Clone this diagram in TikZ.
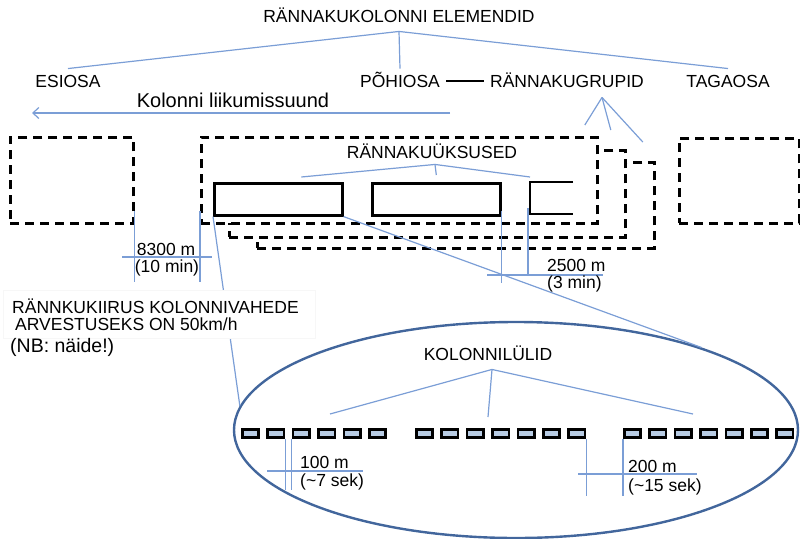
\documentclass[tikz,border=0pt]{standalone}
\usepackage{fontspec}
\setmainfont{Liberation Sans}
\usepackage{tikz}
\usetikzlibrary{shapes.geometric,arrows.meta,positioning}

\definecolor{connblue}{RGB}{123,158,214}
\definecolor{ellblue}{RGB}{66,102,156}
\definecolor{vehfill}{RGB}{184,204,228}

\newcommand{\lblfont}{\fontsize{17.5}{20}\selectfont}

\tikzset{
  lbl/.style={font=\lblfont, text height=12.5pt, text depth=0pt, inner sep=6pt},
  conn/.style={draw=connblue, line width=1.2pt},
  grpbox/.style={draw, fill=white, dashed, dash pattern=on 9pt off 6pt, line width=2.8pt, anchor=north west, inner sep=0pt},
  unitbox/.style={draw, line width=2.6pt, anchor=north west, inner sep=0pt},
  veh/.style={draw, fill=vehfill, line width=2.6pt, minimum width=16.5pt, minimum height=8.5pt, inner sep=0pt},
  dimtxt/.style={font=\lblfont, inner sep=0pt, anchor=west}
}

\begin{document}
\begin{tikzpicture}[x=1pt,y=-1pt]
  \useasboundingbox (0,0) rectangle (800,538);

  % top level
  \node[lbl] (title) at (399,16) {RÄNNAKUKOLONNI ELEMENDID};
  \node[lbl] (esiosa) at (68,81) {ESIOSA};
  \node[lbl] (pohi) at (400,81) {PÕHIOSA};
  \node[lbl] (grupid) at (567,81) {RÄNNAKUGRUPID};
  \node[lbl] (taga) at (728,81) {TAGAOSA};
  \coordinate (elfork) at ([yshift=-3pt]title.south);
  \foreach \t in {esiosa,pohi,taga}
    \draw[conn] (elfork) -- (\t.north);
  \draw[line width=1.2pt] (pohi.east) -- (grupid.west);

  % direction of movement
  \coordinate (mvfrom) at (450,113);
  \coordinate (mvto) at (32,113);
  \draw[conn, -{Straight Barb[length=6pt,width=11pt]}] (mvfrom) -- (mvto);
  \node[font=\fontsize{20}{24}\selectfont, inner sep=0pt] (mvlbl) at (233,100) {Kolonni liikumissuund};

  % march groups and front/rear parts
  \node[grpbox, minimum width=123pt, minimum height=86pt] (esbox) at (9,136) {};
  \node[grpbox, minimum width=120pt, minimum height=85pt] (tgbox) at (678,137) {};
  \node[grpbox, minimum width=397pt, minimum height=86pt] (grp3) at (256,161) {};
  \node[grpbox, minimum width=396pt, minimum height=87pt] (grp2) at (228,149) {};
  \node[grpbox, minimum width=396pt, minimum height=86pt] (grp1) at (200,136) {};

  \coordinate (grpfork) at ([xshift=35pt,yshift=-4pt]grupid.south);
  \draw[conn] (grpfork) -- ([shift={(-14pt,11pt)}]grp1.north east);
  \draw[conn] (grpfork) -- ([shift={(-16pt,19pt)}]grp2.north east);
  \draw[conn] (grpfork) -- ([shift={(-13pt,19pt)}]grp3.north east);

  % march units
  \node[unitbox, minimum width=128pt, minimum height=32pt] (unit1) at (213,182) {};
  \node[unitbox, minimum width=128pt, minimum height=32pt] (unit2) at (371,182) {};
  \coordinate (unit3) at (530,182);
  \draw[line width=2.6pt] (573,182) -- (unit3) -- (530,214) -- (573,214);

  \node[lbl] (uksused) at (432,152) {RÄNNAKUÜKSUSED};
  \coordinate (ukfork) at ([xshift=3pt]uksused.south);
  \draw[conn] (ukfork) -- ([shift={(23pt,5pt)}]unit1.north);
  \draw[conn] (ukfork) -- ([yshift=7pt]unit2.north);
  \draw[conn] (ukfork) -- ([yshift=5pt]unit3);

  % 8300 m
  \draw[conn] ([yshift=14pt]esbox.south east) -- ++(0,71);
  \draw[conn] ([yshift=14pt]grp1.south west) -- ++(0,71);
  \draw[conn] (122,257) -- (212,257);
  \node[font=\lblfont, inner sep=0pt] (d8300) at (166,249) {8300 m};
  \node[font=\lblfont, inner sep=0pt] (t8300) at (167,268) {(10 min)};

  % 2500 m
  \draw[conn] ([yshift=6pt]unit2.south east) -- ++(0,72);
  \draw[conn] ([shift={(-2pt,-26pt)}]unit3) -- ++(0,68);
  \draw[conn] (487,275) -- (603,275);
  \node[dimtxt] (d2500) at (547,265) {2500 m};
  \node[dimtxt] (t2500) at (547,284) {(3 min)};

  % detail of one unit
  \node[ellipse, draw=ellblue, line width=2.4pt, minimum width=564pt, minimum height=216pt, inner sep=0pt] (detail) at (516,430) {};
  \draw[conn] (unit1.south east) -- (detail.24);
  \draw[conn] (unit1.south west) -- (detail.175);

  \node[draw=gray!6, fill=white, anchor=north west, minimum width=312pt, minimum height=48pt, inner sep=0pt] (speedbox) at (3,290) {};
  \node[dimtxt] (speed1) at (12,306) {RÄNNKUKIIRUS KOLONNIVAHEDE};
  \node[dimtxt] (speed2) at (15,324) {ARVESTUSEKS ON 50km/h};
  \node[font=\fontsize{19.5}{23}\selectfont, inner sep=0pt, anchor=west] (nb) at (10,347) {(NB: näide!)};

  % vehicles
  \foreach \g/\xs/\n in {1/241/6,2/415/7,3/623/7}{
    \foreach \i in {1,...,\n}{
      \node[veh] (v\g-\i) at ({\xs+9.5+(\i-1)*25.4},433.5) {};
    }
  }

  \node[lbl] (kolylid) at (488,354) {KOLONNILÜLID};
  \coordinate (kolfork) at ([shift={(4pt,-3pt)}]kolylid.south);
  \coordinate (kolA) at (330,414);
  \coordinate (kolB) at (488,417);
  \coordinate (kolC) at (693,414);
  \foreach \c in {kolA,kolB,kolC}
    \draw[conn] (kolfork) -- (\c);

  % 100 m
  \draw[conn] (v1-2.south east) -- ++(0,51);
  \draw[conn] (v1-3.south west) -- ++(0,51);
  \draw[conn] (267,471) -- (363,471);
  \node[dimtxt] (d100) at (300,462) {100 m};
  \node[dimtxt] (t100) at (300,482) {(\textasciitilde7 sek)};

  % 200 m
  \draw[conn] (v2-7.south east) -- ++(0,57);
  \draw[conn] (v3-1.south west) -- ++(0,57);
  \draw[conn] (578,474) -- (697,474);
  \node[dimtxt] (d200) at (628,466) {200 m};
  \node[dimtxt] (t200) at (628,487) {(\textasciitilde15 sek)};
\end{tikzpicture}
\end{document}
